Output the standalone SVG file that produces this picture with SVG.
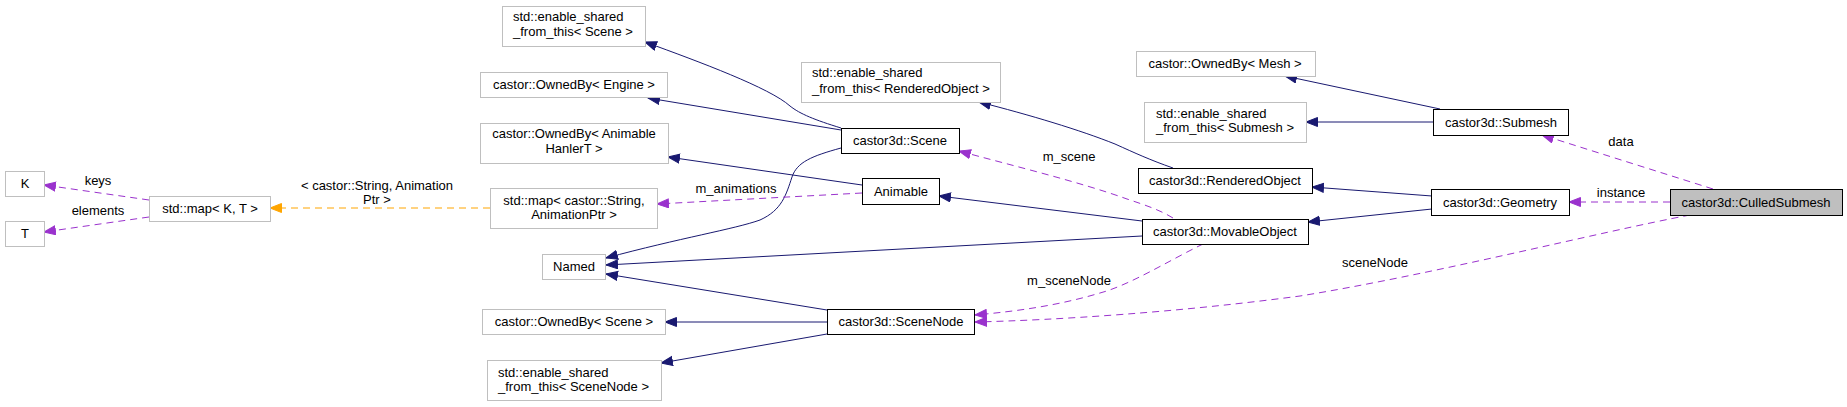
<svg xmlns="http://www.w3.org/2000/svg" width="1847" height="407" viewBox="0 0 1847 407">
<style>
text{font-family:"Liberation Sans",Arial,sans-serif;font-size:13px;fill:#000}
.c{text-anchor:middle}
.ext rect{fill:#fff;stroke:#bfbfbf;stroke-width:1}
.doc rect{fill:#fff;stroke:#000;stroke-width:1}
.cur rect{fill:#bfbfbf;stroke:#000;stroke-width:1}
.inh{fill:none;stroke:#191970;stroke-width:1;marker-end:url(#ab)}
.use{fill:none;stroke:#9a32cd;stroke-width:1;stroke-dasharray:7,5;marker-end:url(#ap)}
.tpl{fill:none;stroke:#ffa500;stroke-width:1;stroke-dasharray:7,5;marker-end:url(#ao)}
</style>
<defs>
<marker id="ab" markerUnits="userSpaceOnUse" markerWidth="14" markerHeight="12" refX="12" refY="5" orient="auto"><path d="M0.5,0.5 L12,5 L0.5,9.5 z" fill="#191970" stroke="#191970" stroke-width="1"/></marker>
<marker id="ap" markerUnits="userSpaceOnUse" markerWidth="14" markerHeight="12" refX="12" refY="5" orient="auto"><path d="M0.5,0.5 L12,5 L0.5,9.5 z" fill="#9a32cd" stroke="#9a32cd" stroke-width="1"/></marker>
<marker id="ao" markerUnits="userSpaceOnUse" markerWidth="14" markerHeight="12" refX="12" refY="5" orient="auto"><path d="M0.5,0.5 L12,5 L0.5,9.5 z" fill="#ffa500" stroke="#ffa500" stroke-width="1"/></marker>
</defs>
<g id="connectors">
<path class="inh" d="M841,128 C815,120 800,114 790,106 C770,88 700,62 645,42"/>
<path class="inh" d="M841,130 L648,98"/>
<path class="inh" d="M841,148 C812,156 797,162 792,177 C786,195 782,210 760,220 C735,229 680,238 606,258"/>
<path class="inh" d="M862,185 L668,157"/>
<path class="use" d="M862,193 L657,204"/>
<path class="tpl" d="M490,208 L270,208"/>
<path class="use" d="M149,200 L44,185"/>
<path class="use" d="M149,217 L44,232"/>
<path class="inh" d="M1142,221 L939,196"/>
<path class="inh" d="M1142,236 L606,265"/>
<path class="use" d="M1173,218 C1160,210 1145,205 1127,199 C1080,182 1010,165 959,151"/>
<path class="inh" d="M827,310 L606,274"/>
<path class="inh" d="M827,322 L665,322"/>
<path class="inh" d="M827,334 L661,363"/>
<path class="use" d="M1203,244 C1170,260 1130,285 1100,293 C1060,305 1020,311 975,315"/>
<path class="use" d="M1690,215 C1600,232 1430,275 1300,296 C1180,312 1060,320 975,322"/>
<path class="inh" d="M1432,196 L1312,187"/>
<path class="inh" d="M1432,209 L1308,222"/>
<path class="inh" d="M1173,168 C1150,160 1135,153 1115,144 C1080,130 1030,115 979,102"/>
<path class="inh" d="M1440,109 L1285,76"/>
<path class="inh" d="M1433,122 L1306,122"/>
<path class="use" d="M1713,189 L1542,135"/>
<path class="use" d="M1670,202 L1569,202"/>
<text class="c" x="98" y="185">keys</text>
<text class="c" x="98" y="215">elements</text>
<text class="c" x="377" y="190">&lt; castor::String, Animation</text>
<text class="c" x="377" y="204">Ptr &gt;</text>
<text class="c" x="736" y="193">m_animations</text>
<text class="c" x="1069" y="161">m_scene</text>
<text class="c" x="1069" y="285">m_sceneNode</text>
<text class="c" x="1375" y="267">sceneNode</text>
<text class="c" x="1621" y="146">data</text>
<text class="c" x="1621" y="197">instance</text>
</g>
<g id="n_K" class="ext"><rect x="5.5" y="171.5" width="39" height="25"/><text class="c" x="25" y="188">K</text></g>
<g id="n_T" class="ext"><rect x="5.5" y="221.5" width="39" height="25"/><text class="c" x="25" y="238">T</text></g>
<g id="n_mapKT" class="ext"><rect x="149.5" y="196.5" width="121" height="25"/><text class="c" x="210" y="213">std::map&lt; K, T &gt;</text></g>
<g id="n_esScene" class="ext"><rect x="502.5" y="6.5" width="143" height="40"/><text x="513" y="21">std::enable_shared</text><text x="513" y="36">_from_this&lt; Scene &gt;</text></g>
<g id="n_obEngine" class="ext"><rect x="480.5" y="72.5" width="187" height="25"/><text class="c" x="574" y="89">castor::OwnedBy&lt; Engine &gt;</text></g>
<g id="n_obAnim" class="ext"><rect x="480.5" y="123.5" width="188" height="40"/><text class="c" x="574" y="138">castor::OwnedBy&lt; Animable</text><text class="c" x="574" y="153">HanlerT &gt;</text></g>
<g id="n_mapStr" class="ext"><rect x="490.5" y="188.5" width="167" height="40"/><text class="c" x="574" y="205">std::map&lt; castor::String,</text><text class="c" x="574" y="219">AnimationPtr &gt;</text></g>
<g id="n_Named" class="ext"><rect x="542.5" y="254.5" width="63" height="25"/><text class="c" x="574" y="271">Named</text></g>
<g id="n_obScene" class="ext"><rect x="482.5" y="309.5" width="183" height="25"/><text class="c" x="574" y="326">castor::OwnedBy&lt; Scene &gt;</text></g>
<g id="n_esSceneNode" class="ext"><rect x="487.5" y="360.5" width="174" height="40"/><text x="498" y="377">std::enable_shared</text><text x="498" y="391">_from_this&lt; SceneNode &gt;</text></g>
<g id="n_Scene" class="doc"><rect x="841.5" y="128.5" width="118" height="25"/><text class="c" x="900" y="145">castor3d::Scene</text></g>
<g id="n_Animable" class="doc"><rect x="862.5" y="178.5" width="77" height="26"/><text class="c" x="901" y="196">Animable</text></g>
<g id="n_SceneNode" class="doc"><rect x="827.5" y="309.5" width="147" height="25"/><text class="c" x="901" y="326">castor3d::SceneNode</text></g>
<g id="n_esRO" class="ext"><rect x="801.5" y="62.5" width="199" height="40"/><text x="812" y="77">std::enable_shared</text><text x="812" y="93">_from_this&lt; RenderedObject &gt;</text></g>
<g id="n_RO" class="doc"><rect x="1138.5" y="168.5" width="174" height="25"/><text class="c" x="1225" y="185">castor3d::RenderedObject</text></g>
<g id="n_MO" class="doc"><rect x="1142.5" y="219.5" width="166" height="25"/><text class="c" x="1225" y="236">castor3d::MovableObject</text></g>
<g id="n_obMesh" class="ext"><rect x="1136.5" y="51.5" width="179" height="25"/><text class="c" x="1225" y="68">castor::OwnedBy&lt; Mesh &gt;</text></g>
<g id="n_esSubmesh" class="ext"><rect x="1144.5" y="102.5" width="162" height="40"/><text x="1156" y="118">std::enable_shared</text><text x="1156" y="132">_from_this&lt; Submesh &gt;</text></g>
<g id="n_Submesh" class="doc"><rect x="1433.5" y="109.5" width="135" height="26"/><text class="c" x="1501" y="127">castor3d::Submesh</text></g>
<g id="n_Geometry" class="doc"><rect x="1431.5" y="189.5" width="138" height="26"/><text class="c" x="1500" y="207">castor3d::Geometry</text></g>
<g id="n_Culled" class="cur"><rect x="1670.5" y="189.5" width="172" height="26"/><text class="c" x="1756" y="207">castor3d::CulledSubmesh</text></g>
</svg>
